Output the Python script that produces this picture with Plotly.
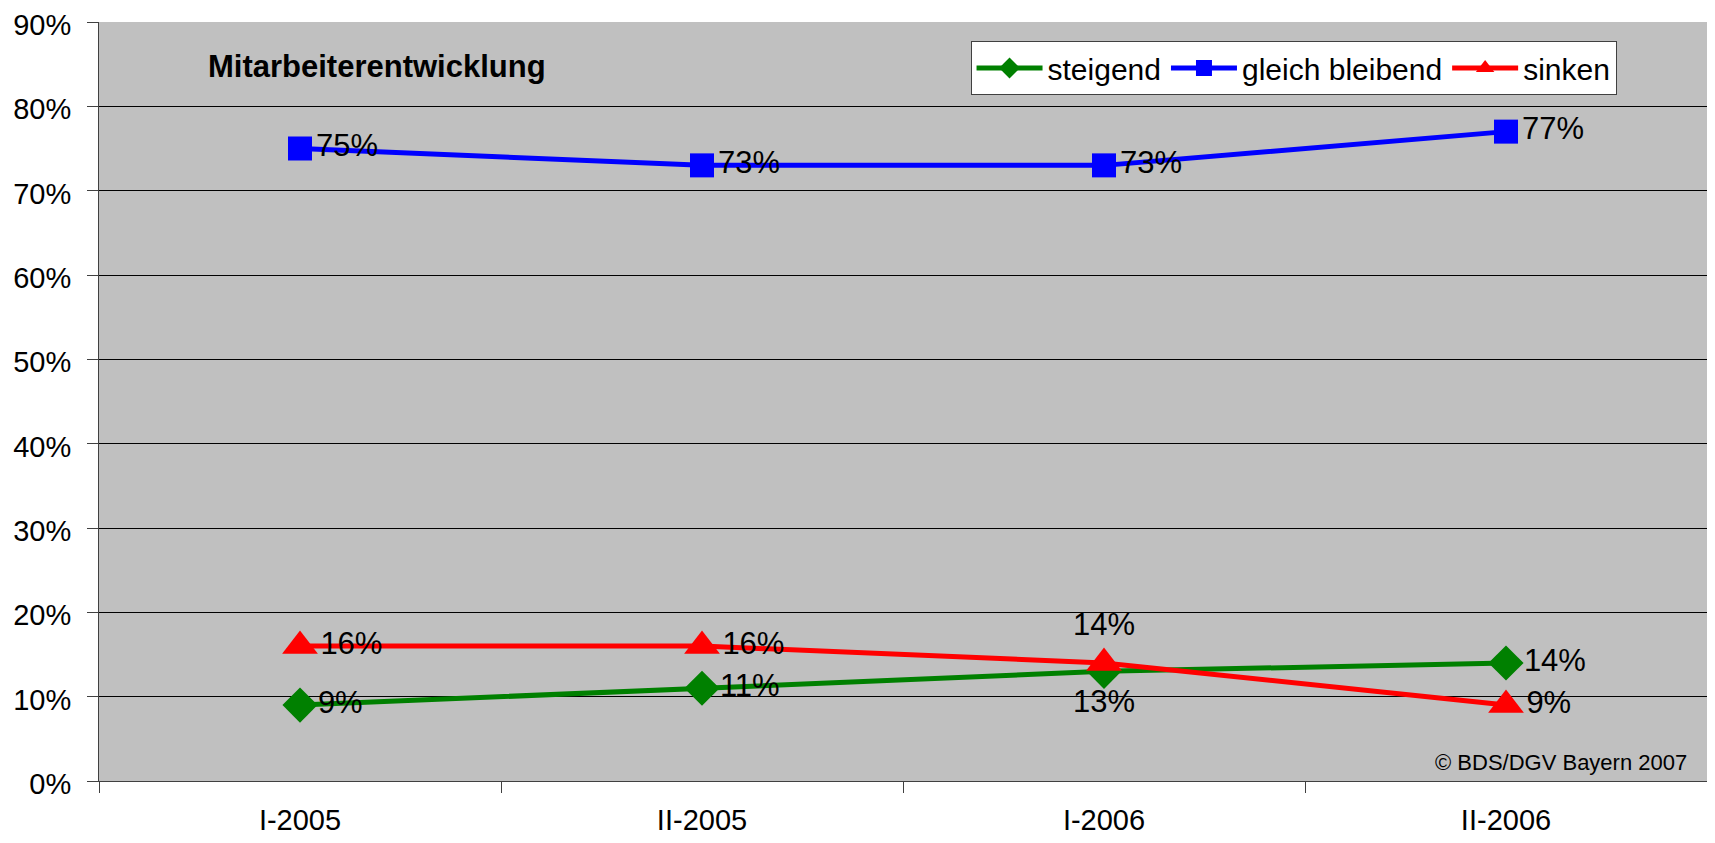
import plotly.graph_objects as go

categories = ["I-2005", "II-2005", "I-2006", "II-2006"]
steigend = [9, 11, 13, 14]
gleich = [75, 73, 73, 77]
sinken = [16, 16, 14, 9]

steigend_pos = ["middle right", "middle right", "bottom center", "middle right"]
gleich_pos = ["middle right", "middle right", "middle right", "middle right"]
sinken_pos = ["middle right", "middle right", "top center", "middle right"]

xs = list(range(len(categories)))
FONT = "Liberation Sans, Arial, sans-serif"

fig = go.Figure()

def add(name, vals, color, symbol, size, pos):
    fig.add_trace(go.Scatter(
        x=xs, y=[v / 100 for v in vals], name=name,
        mode="lines+markers+text",
        line=dict(color=color, width=5),
        marker=dict(color=color, symbol=symbol, size=size),
        text=[f"{v}%" for v in vals], textposition=pos,
        textfont=dict(family=FONT, size=31, color="black"),
        cliponaxis=False,
    ))

add("steigend", steigend, "#008000", "diamond", 27, steigend_pos)
add("gleich bleibend", gleich, "#0000FF", "square", 24, gleich_pos)
add("sinken", sinken, "#FF0000", "triangle-up", 31, sinken_pos)

# invisible trace on secondary x axis for boundary tick marks
fig.add_trace(go.Scatter(x=[-0.5, 3.5], y=[0, 0], xaxis="x2", mode="markers",
                         marker=dict(opacity=0), showlegend=False, hoverinfo="skip"))

# page body has an 8px default margin: figure sized/placed to compensate
fig.update_layout(
    width=1699, height=827,
    margin=dict(l=91, r=0, t=14, b=54, autoexpand=False),
    paper_bgcolor="white", plot_bgcolor="#C0C0C0",
    font=dict(family=FONT, size=30, color="black"),
    showlegend=True,
    legend=dict(orientation="h", x=0.542, y=0.975, xanchor="left", yanchor="top",
                bgcolor="white", bordercolor="#404040", borderwidth=1,
                font=dict(family=FONT, size=30), itemwidth=66,
                tracegroupgap=0),
    xaxis=dict(range=[-0.5, 3.5], tickvals=xs, ticktext=categories,
               showgrid=False, zeroline=False, ticks="", automargin=False,
               showline=True, linecolor="#404040", linewidth=1,
               ticklabelstandoff=13, ticklabeloverflow="allow",
               tickfont=dict(size=29)),
    xaxis2=dict(range=[-0.5, 3.5], overlaying="x", side="bottom", automargin=False,
                tickvals=[-0.5, 0.5, 1.5, 2.5, 3.5], ticks="outside", ticklen=11,
                tickcolor="#404040", showticklabels=False, showgrid=False,
                zeroline=False, showline=False),
    yaxis=dict(range=[0, 0.9], tickvals=[i / 10 for i in range(10)],
               tickformat=".0%", automargin=False,
               showgrid=True, gridcolor="#000000", gridwidth=1,
               zeroline=False, ticks="outside", ticklen=11, tickcolor="#404040",
               showline=True, linecolor="#404040", linewidth=1, mirror=False,
               ticklabelstandoff=10, ticklabelshift=3, ticklabeloverflow="allow",
               tickfont=dict(size=29)),
)

fig.add_annotation(text="<b>Mitarbeiterentwicklung</b>", xref="paper", yref="paper",
                   x=0.0665, y=0.942, xanchor="left", yanchor="middle", showarrow=False,
                   font=dict(family=FONT, size=31, color="black"))
fig.add_annotation(text="© BDS/DGV Bayern 2007", xref="paper", yref="paper",
                   x=0.989, y=0.025, xanchor="right", yanchor="middle", showarrow=False,
                   font=dict(family=FONT, size=22, color="black"))

fig.write_html("out.html")
